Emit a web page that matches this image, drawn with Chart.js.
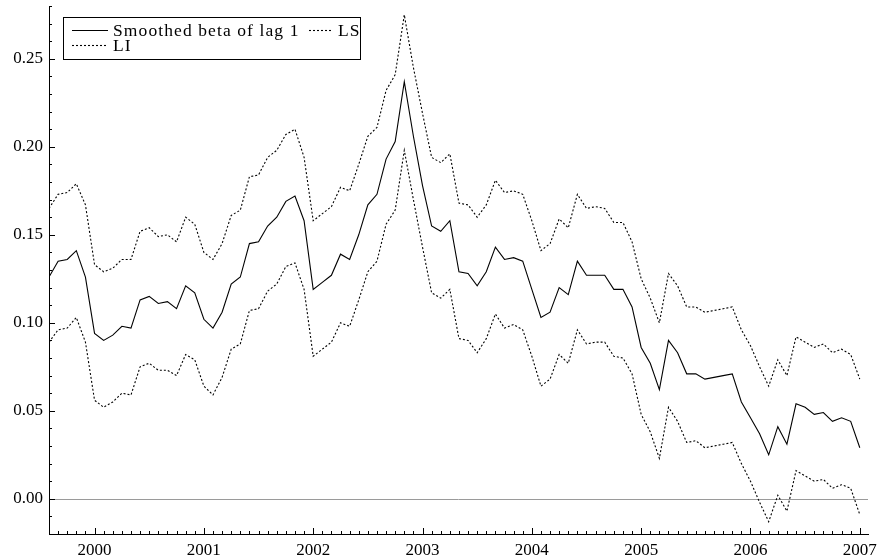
<!DOCTYPE html>
<html>
<head>
<meta charset="utf-8">
<script src="https://cdn.jsdelivr.net/npm/chart.js@4/dist/chart.umd.min.js"></script>
<style>
  html, body { margin: 0; padding: 0; background: #fff; }
  #wrap { width: 877px; height: 559px; }
</style>
</head>
<body>
<div id="wrap"><canvas id="c" width="877" height="559"></canvas></div>
<script>
// Monthly observations, first one is August 1999
const startYear = 1999;
const startMonth = 8;

// Smoothed beta of lag 1
const beta = [
  0.126, 0.135, 0.136, 0.141, 0.126, 0.094, 0.090, 0.093, 0.098, 0.097,
  0.113, 0.115, 0.111, 0.112, 0.108, 0.121, 0.117, 0.102, 0.097, 0.106,
  0.122, 0.126, 0.145, 0.146, 0.155, 0.160, 0.169, 0.172, 0.158, 0.119,
  0.123, 0.127, 0.139, 0.136, 0.150, 0.167, 0.173, 0.193, 0.203, 0.237,
  0.206, 0.178, 0.155, 0.152, 0.158, 0.129, 0.128, 0.121, 0.129, 0.143,
  0.136, 0.137, 0.135, 0.119, 0.103, 0.106, 0.120, 0.116, 0.135, 0.127,
  0.127, 0.127, 0.119, 0.119, 0.109, 0.086, 0.077, 0.062, 0.090, 0.083,
  0.071, 0.071, 0.068, 0.069, 0.070, 0.071, 0.055, 0.046, 0.037, 0.025,
  0.041, 0.031, 0.054, 0.052, 0.048, 0.049, 0.044, 0.046, 0.044, 0.029
];

// Upper band (LS)
const upperBand = [
  0.165, 0.173, 0.174, 0.179, 0.167, 0.133, 0.129, 0.131, 0.136, 0.136,
  0.152, 0.154, 0.149, 0.150, 0.146, 0.160, 0.156, 0.140, 0.136, 0.145,
  0.161, 0.164, 0.183, 0.184, 0.194, 0.198, 0.207, 0.210, 0.194, 0.158,
  0.162, 0.166, 0.177, 0.175, 0.190, 0.206, 0.211, 0.232, 0.241, 0.275,
  0.245, 0.219, 0.194, 0.191, 0.196, 0.168, 0.167, 0.160, 0.167, 0.181,
  0.174, 0.175, 0.173, 0.158, 0.141, 0.145, 0.159, 0.154, 0.173, 0.165,
  0.166, 0.165, 0.157, 0.157, 0.146, 0.125, 0.114, 0.100, 0.128, 0.121,
  0.109, 0.109, 0.106, 0.107, 0.108, 0.109, 0.096, 0.087, 0.075, 0.064,
  0.079, 0.070, 0.092, 0.089, 0.086, 0.088, 0.083, 0.085, 0.082, 0.068
];

// Lower band (LI)
const lowerBand = [
  0.089, 0.096, 0.097, 0.103, 0.089, 0.056, 0.052, 0.055, 0.060, 0.059,
  0.075, 0.077, 0.073, 0.073, 0.070, 0.082, 0.079, 0.064, 0.059, 0.069,
  0.085, 0.088, 0.107, 0.108, 0.118, 0.122, 0.132, 0.134, 0.119, 0.081,
  0.085, 0.089, 0.100, 0.098, 0.113, 0.129, 0.135, 0.156, 0.164, 0.198,
  0.170, 0.143, 0.117, 0.114, 0.119, 0.091, 0.090, 0.083, 0.091, 0.105,
  0.097, 0.099, 0.096, 0.081, 0.064, 0.068, 0.082, 0.077, 0.096, 0.088,
  0.089, 0.089, 0.081, 0.080, 0.071, 0.048, 0.038, 0.023, 0.052, 0.044,
  0.032, 0.033, 0.029, 0.030, 0.031, 0.032, 0.020, 0.010, -0.002, -0.013,
  0.002, -0.007, 0.016, 0.013, 0.010, 0.011, 0.006, 0.008, 0.006, -0.009
];

// Axis tick labels
const yearTicks = [2000, 2001, 2002, 2003, 2004, 2005, 2006, 2007];
const valueTicks = [0.00, 0.05, 0.10, 0.15, 0.20, 0.25];

const FONT = '"Liberation Serif", "Times New Roman", serif';

// decimal-year position of each monthly observation
const when = beta.map((_, i) => startYear + (startMonth - 1 + i) / 12);
const pts = arr => arr.map((v, i) => ({ x: when[i], y: v }));

const xMin = when[0];
const xMax = 2007.075;
const yMin = -0.02;
const yMax = 0.28;

// Inward major/minor tick marks, zero reference line and the boxed legend
const decor = {
  id: 'decor',
  beforeDatasetsDraw(chart) {
    const { ctx, chartArea: a, scales: { y } } = chart;
    const y0 = Math.round(y.getPixelForValue(0)) + 0.5;
    ctx.save();
    ctx.strokeStyle = '#9a9a9a';
    ctx.lineWidth = 1;
    ctx.beginPath();
    ctx.moveTo(a.left, y0);
    ctx.lineTo(a.right, y0);
    ctx.stroke();
    ctx.restore();
  },
  afterDraw(chart) {
    const { ctx, chartArea: a, scales: { x, y } } = chart;
    ctx.save();
    ctx.strokeStyle = '#000';
    ctx.lineWidth = 1;
    ctx.beginPath();
    // monthly ticks on the time axis
    for (let m = Math.ceil(xMin * 12 - 1e-6); m / 12 <= xMax + 1e-9; m++) {
      const px = Math.round(x.getPixelForValue(m / 12)) + 0.5;
      const major = m % 12 === 0;
      ctx.moveTo(px, a.bottom);
      ctx.lineTo(px, a.bottom - (major ? 6 : 3));
    }
    // ticks every 0.01 on the value axis
    for (let k = Math.ceil(yMin * 100 - 1e-6); k <= Math.floor(yMax * 100 + 1e-6); k++) {
      const py = Math.round(y.getPixelForValue(k / 100)) + 0.5;
      const major = k % 5 === 0;
      ctx.moveTo(a.left, py);
      ctx.lineTo(a.left + (major ? 6 : 3), py);
    }
    ctx.stroke();

    // legend
    const ds = chart.data.datasets;
    const bx = 63.5, by = 17.5, bw = 297, bh = 42;
    ctx.fillStyle = '#fff';
    ctx.fillRect(bx, by, bw, bh);
    ctx.strokeRect(bx, by, bw, bh);
    ctx.font = '17.5px ' + FONT;
    if ('letterSpacing' in ctx) ctx.letterSpacing = '1.1px';
    ctx.textBaseline = 'middle';
    ctx.fillStyle = '#000';
    const entry = (d, lx, ly, len) => {
      ctx.save();
      ctx.lineWidth = d.borderWidth;
      ctx.setLineDash(d.borderDash || []);
      ctx.beginPath();
      ctx.moveTo(lx, ly);
      ctx.lineTo(lx + len, ly);
      ctx.stroke();
      ctx.restore();
      ctx.fillText(d.label, lx + len + 5, ly + 1);
    };
    entry(ds[0], 72, 30.5, 36);
    entry(ds[1], 309, 30.5, 24);
    entry(ds[2], 72, 45.5, 36);
    ctx.restore();
  }
};

new Chart(document.getElementById('c'), {
  type: 'line',
  data: {
    datasets: [
      { label: 'Smoothed beta of lag 1', data: pts(beta), borderColor: '#000', borderWidth: 1.1, pointRadius: 0, tension: 0 },
      { label: 'LS', data: pts(upperBand), borderColor: '#000', borderWidth: 1.1, borderDash: [2, 2], pointRadius: 0, tension: 0 },
      { label: 'LI', data: pts(lowerBand), borderColor: '#000', borderWidth: 1.1, borderDash: [2, 2], pointRadius: 0, tension: 0 }
    ]
  },
  options: {
    responsive: false,
    animation: false,
    devicePixelRatio: 1,
    layout: { padding: { top: 6, right: 9, left: 0, bottom: 0 } },
    plugins: { legend: { display: false }, tooltip: { enabled: false } },
    scales: {
      x: {
        type: 'linear',
        min: xMin,
        max: xMax,
        afterBuildTicks: s => { s.ticks = yearTicks.map(v => ({ value: v })); },
        afterFit: s => { s.height = 25; s.paddingLeft = 0; s.paddingRight = 0; },
        grid: { display: false, drawTicks: false },
        border: { display: true, color: '#000', width: 1 },
        ticks: { color: '#000', font: { family: FONT, size: 17 }, padding: 6, maxRotation: 0, autoSkip: false,
                 callback: v => String(v) }
      },
      y: {
        type: 'linear',
        min: yMin,
        max: yMax,
        afterBuildTicks: s => { s.ticks = valueTicks.map(v => ({ value: v })); },
        afterFit: s => { s.width = 49; s.paddingTop = 0; s.paddingBottom = 0; },
        grid: { display: false, drawTicks: false },
        border: { display: true, color: '#000', width: 1 },
        ticks: { color: '#000', font: { family: FONT, size: 17 }, padding: 6,
                 callback: v => Number(v).toFixed(2) }
      }
    }
  },
  plugins: [decor]
});
</script>
</body>
</html>
